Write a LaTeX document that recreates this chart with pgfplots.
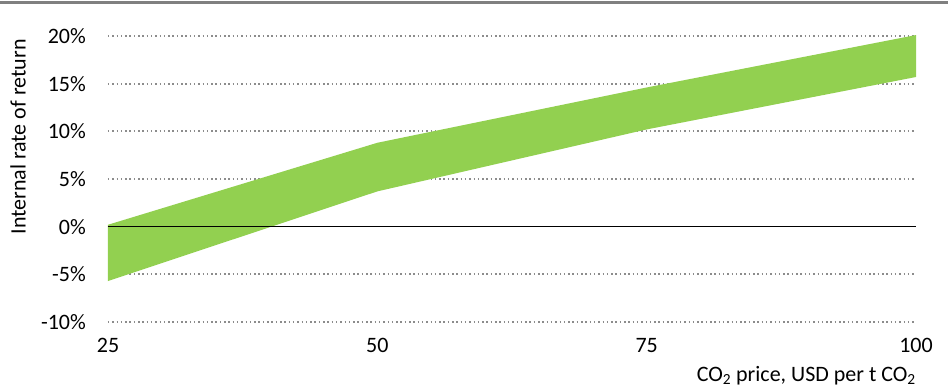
\documentclass[border=0pt]{standalone}
\usepackage{pgfplots}
\pgfplotsset{compat=1.18}
\usepackage{fontspec}
\setmainfont{Carlito}
\definecolor{band}{HTML}{92D050}
\definecolor{gridc}{HTML}{8C8C8C}
\definecolor{rulec}{HTML}{808080}
\begin{document}
\begin{tikzpicture}
\begin{axis}[
  scale only axis,
  width=808pt, height=286pt,
  xmin=25, xmax=100, ymin=-10, ymax=20,
  axis line style={draw=none},
  clip=false,
  font=\fontsize{22}{26}\selectfont,
  xtick={25,50,75,100},
  xticklabels={25,50,75,100},
  ytick={-10,-5,0,5,10,15,20},
  yticklabels={-10\%,-5\%,0\%,5\%,10\%,15\%,20\%},
  major tick length=0pt,
  tick style={draw=none},
  xticklabel style={anchor=base, inner sep=0pt, yshift=-30pt},
  yticklabel style={anchor=east, inner sep=0pt, xshift=-22pt},
  ylabel={Internal rate of return},
  ylabel style={at={(axis description cs:-0.1114,0.647)}, anchor=center, inner sep=0pt},
  xlabel={CO\textsubscript{2} price, USD per t CO\textsubscript{2}},
  xlabel style={at={(axis description cs:1,0)}, anchor=base east, yshift=-59pt, inner sep=0pt},
]
% dotted gridlines
\addplot[gridc, line width=1.8pt, dash pattern=on 1.5pt off 2.8pt, forget plot] coordinates {(25,20) (100,20)};
\addplot[gridc, line width=1.8pt, dash pattern=on 1.5pt off 2.8pt, forget plot] coordinates {(25,15) (100,15)};
\addplot[gridc, line width=1.8pt, dash pattern=on 1.5pt off 2.8pt, forget plot] coordinates {(25,10) (100,10)};
\addplot[gridc, line width=1.8pt, dash pattern=on 1.5pt off 2.8pt, forget plot] coordinates {(25,5) (100,5)};
\addplot[gridc, line width=1.8pt, dash pattern=on 1.5pt off 2.8pt, forget plot] coordinates {(25,-5) (100,-5)};
\addplot[gridc, line width=1.8pt, dash pattern=on 1.5pt off 2.8pt, forget plot] coordinates {(25,-10) (100,-10)};
% IRR range band: upper 25..100 then lower 100..25
\addplot[fill=band, draw=none] coordinates {
  (25,0.2) (50,8.8) (75,14.6) (100,20.1)
  (100,15.7) (75,10.2) (50,3.7) (25,-5.7)
} -- cycle;
% zero line
\addplot[black, line width=1.2pt] coordinates {(25,0) (100,0)};
\end{axis}
\path[use as bounding box] ([shift={(-108pt,-66pt)}]current axis.south west) rectangle ([shift={(32pt,36pt)}]current axis.north east);
\draw[rulec, line width=3pt] ([shift={(-108pt,33pt)}]current axis.north west) -- ([shift={(32pt,33pt)}]current axis.north east);
\end{tikzpicture}
\end{document}
